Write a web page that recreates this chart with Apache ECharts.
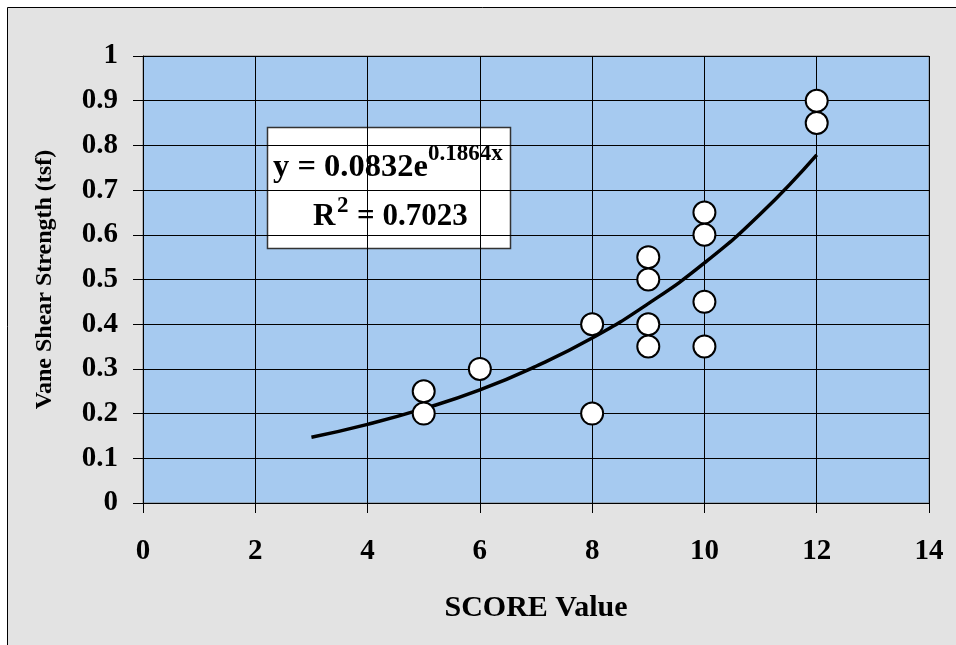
<!DOCTYPE html>
<html>
<head>
<meta charset="utf-8">
<script src="https://cdn.jsdelivr.net/npm/echarts@6/dist/echarts.min.js"></script>
<style>
html,body{margin:0;padding:0;background:#ffffff;}
#chart{width:956px;height:645px;}
</style>
</head>
<body>
<div id="chart"></div>
<script>
// Observed data points (SCORE value, vane shear strength in tsf)
var scoreValues = [5, 5, 6, 8, 8, 9, 9, 9, 9, 10, 10, 10, 10, 12, 12];
var shearValues = [0.25, 0.2, 0.3, 0.4, 0.2, 0.55, 0.5, 0.4, 0.35, 0.65, 0.6, 0.45, 0.35, 0.9, 0.85];

// Trendline
var trendX = [3, 4, 5, 6, 7, 8, 9, 10, 11, 12];
var trendY = [0.147, 0.176, 0.211, 0.253, 0.306, 0.369, 0.446, 0.537, 0.647, 0.779];

var xTicks = [0, 2, 4, 6, 8, 10, 12, 14];
var yTicks = [0, 0.1, 0.2, 0.3, 0.4, 0.5, 0.6, 0.7, 0.8, 0.9, 1];

var eqMain = 'y = 0.0832e';
var eqExp = '0.1864x';
var r2Label = 'R';
var r2Sup = '2';
var r2Value = '= 0.7023';

var FONT = '"Liberation Serif", "Times New Roman", serif';

var scatterData = scoreValues.map(function (x, i) { return [x, shearValues[i]]; });
var trendData = trendX.map(function (x, i) { return [x, trendY[i]]; });

var chart = echarts.init(document.getElementById('chart'));

var axisCommon = {
  axisLine: { show: true, lineStyle: { color: '#000', width: 1 } },
  axisTick: { show: true, inside: false, length: 10, lineStyle: { color: '#000', width: 1 } },
  splitLine: { show: true, lineStyle: { color: '#000', width: 1 } }
};

chart.setOption({
  backgroundColor: '#ffffff',
  animation: false,
  graphic: [
    {
      type: 'rect', z: -100, silent: true,
      shape: { x: 7.5, y: 7.5, width: 1000, height: 700 },
      style: { fill: '#e3e3e3', stroke: '#000', lineWidth: 1 }
    },
    {
      type: 'group', z: 100,
      children: [
        { type: 'rect', shape: { x: 267.5, y: 127.5, width: 243, height: 121 },
          style: { fill: '#ffffff', stroke: '#333', lineWidth: 1.5 } },
        { type: 'text', x: 273, y: 151,
          style: { text: eqMain, font: 'bold 32.5px "Liberation Serif"', fill: '#000', verticalAlign: 'top' } },
        { type: 'text', x: 428, y: 143,
          style: { text: eqExp, font: 'bold 23px "Liberation Serif"', fill: '#000', verticalAlign: 'top' } },
        { type: 'text', x: 313, y: 201,
          style: { text: r2Label, font: 'bold 31px "Liberation Serif"', fill: '#000', verticalAlign: 'top' } },
        { type: 'text', x: 337, y: 195,
          style: { text: r2Sup, font: 'bold 23px "Liberation Serif"', fill: '#000', verticalAlign: 'top' } },
        { type: 'text', x: 357, y: 201,
          style: { text: r2Value, font: 'bold 31px "Liberation Serif"', fill: '#000', verticalAlign: 'top' } }
      ]
    }
  ],
  grid: {
    left: 143, top: 56, right: 27, bottom: 142,
    show: true, backgroundColor: '#a6caf0', borderColor: '#808080', borderWidth: 1
  },
  xAxis: Object.assign({}, axisCommon, {
    type: 'value', min: xTicks[0], max: xTicks[xTicks.length - 1], interval: 2,
    name: 'SCORE Value', nameLocation: 'middle', nameGap: 90,
    nameTextStyle: { fontFamily: FONT, fontWeight: 'bold', fontSize: 30, color: '#000' },
    axisLabel: { fontFamily: FONT, fontWeight: 'bold', fontSize: 29, color: '#000', margin: 34 }
  }),
  yAxis: Object.assign({}, axisCommon, {
    type: 'value', min: yTicks[0], max: yTicks[yTicks.length - 1], interval: 0.1,
    name: 'Vane Shear Strength (tsf)', nameLocation: 'middle', nameGap: 86, nameRotate: 90,
    nameTextStyle: { fontFamily: FONT, fontWeight: 'bold', fontSize: 24, color: '#000' },
    axisLabel: { fontFamily: FONT, fontWeight: 'bold', fontSize: 29, color: '#000', margin: 25,
      formatter: function (v) { return String(parseFloat(v.toFixed(1))); } }
  }),
  series: [
    {
      type: 'line', data: trendData, smooth: true, showSymbol: false, symbol: 'none',
      lineStyle: { color: '#000', width: 3.5 }, z: 3, silent: true
    },
    {
      type: 'scatter', data: scatterData, symbol: 'circle', symbolSize: 22,
      itemStyle: { color: '#ffffff', borderColor: '#000', borderWidth: 2, opacity: 1 }, z: 4
    }
  ]
});
</script>
</body>
</html>
